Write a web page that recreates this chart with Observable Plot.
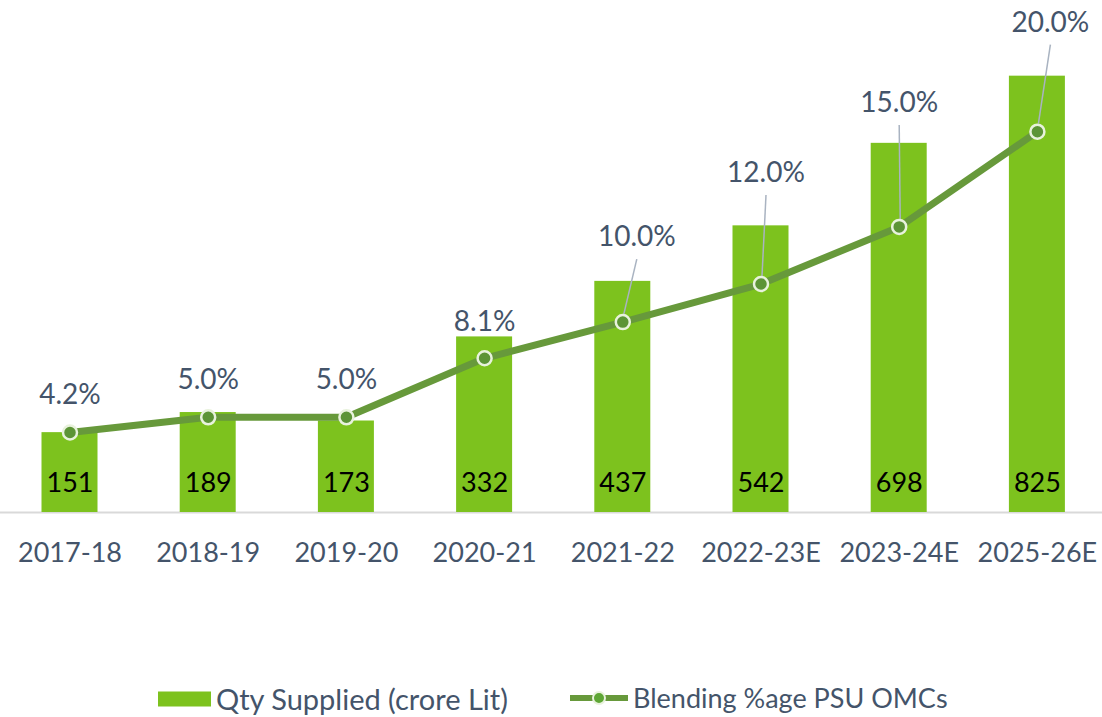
<!DOCTYPE html>
<html>
<head>
<meta charset="utf-8">
<script src="https://cdn.jsdelivr.net/npm/d3@7"></script>
<script src="https://cdn.jsdelivr.net/npm/@observablehq/plot@0.6"></script>
<style>
  html, body { margin: 0; padding: 0; background: #fff; }
  body { width: 1102px; height: 717px; overflow: hidden; font-family: Lato, "Open Sans", sans-serif; }
  #chart svg { display: block; }
  #legend { position: relative; height: 117px; color: #44546a; }
  .item { position: absolute; top: 81px; display: flex; align-items: center; white-space: nowrap; }
</style>
</head>
<body>
<div id="chart"></div>
<div id="legend">
  <div class="item" style="left:158px">
    <svg width="58" height="30"><rect x="0" y="7.5" width="53" height="15" fill="#7dc21e"></rect></svg>
    <span style="font-size:29px">Qty Supplied (crore Lit)</span>
  </div>
  <div class="item" style="left:570px">
    <svg width="63" height="30"><line x1="0" x2="58" y1="15" y2="15" stroke="#67993b" stroke-width="6"></line><circle cx="29" cy="15" r="6" fill="#5ea635" stroke="#e8f2dc" stroke-width="2"></circle></svg>
    <span style="font-size:27px">Blending %age PSU OMCs</span>
  </div>
</div>
<script>
// ---- data ----
const categories = ["2017-18", "2018-19", "2019-20", "2020-21", "2021-22", "2022-23E", "2023-24E", "2025-26E"];
const qtySupplied = [151, 189, 173, 332, 437, 542, 698, 825];      // crore litres
const blendingPct = [4.2, 5.0, 5.0, 8.1, 10.0, 12.0, 15.0, 20.0];  // %
// label offsets (px) relative to the line point: [dx, dy]
const pctLabelOffset = [[0, -38], [0, -37], [0, -37], [0, -36], [14, -85], [5, -111], [0, -124], [13, -109]];
const hasLeader = [false, false, false, false, true, true, true, true];

// secondary axis: 0–25 % mapped onto the 0–900 primary axis
const Q_MAX = 900, P_MAX = 25, k = Q_MAX / P_MAX;

const rows = categories.map((cat, i) => ({i, cat, qty: qtySupplied[i], pct: blendingPct[i], p: blendingPct[i] * k}));

const W = 1102, H = 600;
const xOpts = {type: "linear", domain: [-0.5, categories.length - 0.5], range: [0.4, 1106]};
const yOpts = {type: "linear", domain: [0, Q_MAX], range: [512, 36]};
const xs = Plot.scale({x: xOpts});
const ys = Plot.scale({y: yOpts});
const shiftX = (v, px) => xs.invert(xs.apply(v) + px);
const shiftY = (v, px) => ys.invert(ys.apply(v) + px);

const labels = rows.map((d, j) => ({
  ...d,
  lx: shiftX(d.i, pctLabelOffset[j][0]),
  ly: shiftY(d.p, pctLabelOffset[j][1])
}));
const leaders = labels.filter((d, j) => hasLeader[j]).map(d => ({
  x1: d.lx, y1: shiftY(d.ly, 22),
  x2: shiftX(d.i, 1), y2: shiftY(d.p, -8)
}));

const halfBar = 0.2026;
const textColor = "#44546a";

const chart = Plot.plot({
  width: W,
  height: H,
  marginLeft: 0,
  marginRight: 0,
  marginTop: 0,
  marginBottom: 0,
  x: {...xOpts, axis: null},
  y: {...yOpts, axis: null},
  style: {fontFamily: "Lato, 'Open Sans', sans-serif", background: "#fff"},
  marks: [
    Plot.ruleY([0], {stroke: "#d9d9d9", strokeWidth: 2}),
    Plot.rectY(rows, {x1: d => d.i - halfBar, x2: d => d.i + halfBar, y1: 0, y2: "qty", fill: "#7dc21e"}),
    Plot.text(rows, {x: "i", y: 0, dy: -29, text: d => String(d.qty), fontSize: 27, fill: "#000"}),
    Plot.link(leaders, {x1: "x1", y1: "y1", x2: "x2", y2: "y2", stroke: "#a9b3c1", strokeWidth: 1.5}),
    Plot.line(rows, {x: "i", y: "p", stroke: "#67993b", strokeWidth: 7, strokeLinejoin: "round", strokeLinecap: "round"}),
    Plot.dot(rows, {x: "i", y: "p", r: 7, fill: "#5c9436", stroke: "#e8f2dc", strokeWidth: 2.5}),
    Plot.text(labels, {x: "lx", y: "ly", text: d => d.pct.toFixed(1) + "%", fontSize: 28, fill: textColor}),
    Plot.text(rows, {x: "i", y: 0, dy: 41, text: "cat", fontSize: 27, fill: textColor})
  ]
});
document.getElementById("chart").appendChild(chart);
</script>
</body>
</html>
